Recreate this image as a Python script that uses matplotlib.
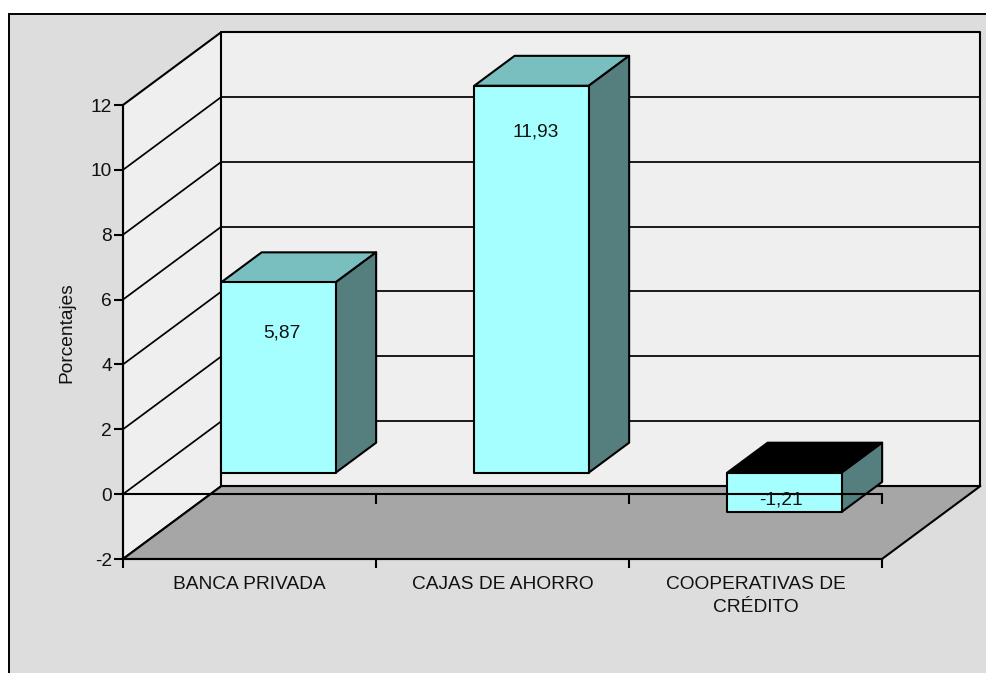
import matplotlib
matplotlib.use("Agg")
import matplotlib.pyplot as plt
from matplotlib.patches import Polygon, Rectangle

plt.rcParams['font.family'] = ['Liberation Sans', 'DejaVu Sans']

categories = ["BANCA PRIVADA", "CAJAS DE AHORRO", "COOPERATIVAS DE\nCRÉDITO"]
values = [5.87, 11.93, -1.21]
y_ticks = [-2, 0, 2, 4, 6, 8, 10, 12]
y_label = "Porcentajes"

W, H = 987, 673
FS = 13.8
LW = 1.5
GRID = 1.25
DX, DY = 0.389, 2.25      # projection of full depth, in data units
D0, D1 = 0.295, 0.705     # front and back depth of bars
BAR_W = 0.4526
WALL = "#EFEFEF"
FLOOR = "#A6A6A6"
FRONT = "#A6FFFF"
TOP = "#7ABFBF"
SIDE = "#557F7F"
PANEL = "#DDDDDD"
TXT = "#111111"


def P(x, y, d=0.0):
    return (x + d * DX, y + d * DY)


fig = plt.figure(figsize=(W / 100, H / 100), dpi=100, facecolor="white")
fig.add_artist(Rectangle((9 / W, -0.05), 1.1, 1 - 13.5 / H + 0.05, transform=fig.transFigure,
                         facecolor=PANEL, edgecolor="black", linewidth=1.4, zorder=-5))

ax = fig.add_axes([123 / W, 1 - 559 / H, 759 / W, 454 / H])
ax.patch.set_visible(False)
ax.set_xlim(0, len(categories))
ax.set_ylim(min(y_ticks), max(y_ticks))
ymin, ymax = min(y_ticks), max(y_ticks)
xmax = len(categories)


def poly(pts, fc, lw=LW, z=1):
    ax.add_patch(Polygon(pts, closed=True, facecolor=fc, edgecolor="black",
                         linewidth=lw, joinstyle="round", clip_on=False, zorder=z))


def line(a, b, lw=GRID, z=2):
    ax.plot([a[0], b[0]], [a[1], b[1]], color="black", lw=lw, clip_on=False,
            zorder=z, solid_capstyle="round")


# walls
poly([P(0, ymin), P(0, ymax), P(0, ymax, 1), P(0, ymin, 1)], WALL)
poly([P(0, ymin, 1), P(0, ymax, 1), P(xmax, ymax, 1), P(xmax, ymin, 1)], WALL)
for t in y_ticks[1:-1]:
    line(P(0, t), P(0, t, 1))
    line(P(0, t, 1), P(xmax, t, 1))

# floor
poly([P(0, ymin), P(xmax, ymin), P(xmax, ymin, 1), P(0, ymin, 1)], FLOOR, z=3)

# bars
for i, v in enumerate(values):
    xl = i + 0.5 - BAR_W / 2
    xr = i + 0.5 + BAR_W / 2
    hi, lo = max(v, 0), min(v, 0)
    top = TOP if v >= 0 else "black"
    poly([P(xl, hi, D0), P(xr, hi, D0), P(xr, hi, D1), P(xl, hi, D1)], top, z=4)
    poly([P(xr, lo, D0), P(xr, hi, D0), P(xr, hi, D1), P(xr, lo, D1)], SIDE, z=4)
    poly([P(xl, lo, D0), P(xr, lo, D0), P(xr, hi, D0), P(xl, hi, D0)], FRONT, z=4)

# zero plane line with its ticks, in front of the bars
ax.plot([0, xmax], [0, 0], color="black", lw=LW, clip_on=False, zorder=5)
ax.vlines(range(1, xmax + 1), -0.3, 0, color="black", lw=LW, clip_on=False, zorder=5)

# value labels
label_drop = [1.55, 1.42]
for i, v in enumerate(values):
    x, y = P(i + 0.5, max(v, 0), D0)
    if v >= 0:
        lx, ly = x + 0.015, y - label_drop[i]
    else:
        lx, ly = x - 0.014, v * 0.5 + D0 * DY - 0.23
    ax.text(lx, ly, f"{v:.2f}".replace(".", ","), ha="center", va="center",
            fontsize=FS, color=TXT, zorder=6)

# axes
for s in ("top", "right"):
    ax.spines[s].set_visible(False)
for s in ("left", "bottom"):
    ax.spines[s].set_linewidth(LW)
    ax.spines[s].set_zorder(7)
ax.set_yticks(y_ticks)
ax.set_yticklabels([str(t) for t in y_ticks], fontsize=FS, color=TXT)
ax.tick_params(axis="y", length=6.5, width=LW, pad=1.5)
ax.set_xticks(range(xmax + 1))
ax.set_xticklabels([""] * (xmax + 1))
ax.tick_params(axis="x", which="major", length=6.5, width=LW)
ax.set_xticks([i + 0.5 for i in range(xmax)], minor=True)
ax.set_xticklabels(categories, minor=True, fontsize=FS, color=TXT, linespacing=1.47)
ax.tick_params(axis="x", which="minor", length=0, pad=12.5)
ax.set_ylabel(y_label, fontsize=FS, color=TXT)
ax.yaxis.set_label_coords((75 - 123) / 759, (559 - 333) / 454)

fig.savefig("out.png", dpi=100, facecolor="white")
